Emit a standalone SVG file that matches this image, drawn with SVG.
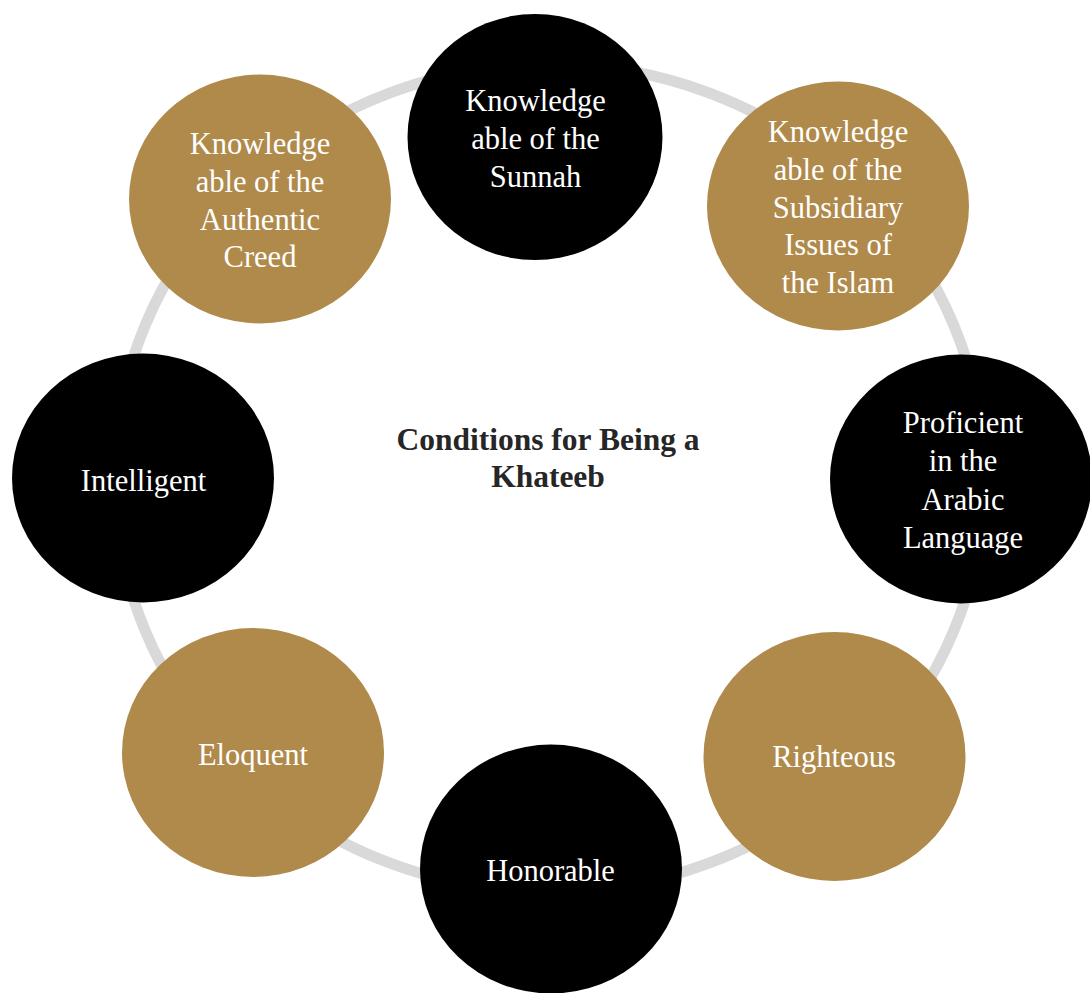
<svg xmlns="http://www.w3.org/2000/svg" width="1090" height="993" viewBox="0 0 1090 993">
  <style>
    .gold { fill: #B08A4B; }
    .dark { fill: #000000; }
    .lbl { font-family: "Liberation Serif", "Times New Roman", serif; font-size: 30.5px; fill: #FFFFFF; text-anchor: middle; }
    .title { font-family: "Liberation Serif", "Times New Roman", serif; font-size: 31.5px; font-weight: bold; fill: #262626; text-anchor: middle; }
  </style>
  <rect x="0" y="0" width="1090" height="993" fill="#FFFFFF"/>
  <g id="connectors">
    <ellipse cx="549.5" cy="478" rx="435" ry="414" fill="none" stroke="#D9D9D9" stroke-width="11"/>
  </g>
  <g id="center-title">
    <text class="title" x="548" y="450">Conditions for Being a</text>
    <text class="title" x="548" y="487">Khateeb</text>
  </g>
  <g id="node-sunnah">
    <ellipse class="dark" cx="535" cy="137" rx="127.5" ry="123"/>
    <text class="lbl" x="535.5" y="110.7">Knowledge</text>
    <text class="lbl" x="535.5" y="149">able of the</text>
    <text class="lbl" x="535.5" y="187.3">Sunnah</text>
  </g>
  <g id="node-subsidiary">
    <ellipse class="gold" cx="838" cy="206" rx="131" ry="124.5"/>
    <text class="lbl" x="838" y="141.7">Knowledge</text>
    <text class="lbl" x="838" y="179.6">able of the</text>
    <text class="lbl" x="838" y="217.5">Subsidiary</text>
    <text class="lbl" x="838" y="255.4">Issues of</text>
    <text class="lbl" x="838" y="293.3">the Islam</text>
  </g>
  <g id="node-arabic">
    <ellipse class="dark" cx="961" cy="479" rx="131" ry="124.5"/>
    <text class="lbl" x="963" y="433">Proficient</text>
    <text class="lbl" x="963" y="471.3">in the</text>
    <text class="lbl" x="963" y="509.6">Arabic</text>
    <text class="lbl" x="963" y="547.9">Language</text>
  </g>
  <g id="node-righteous">
    <ellipse class="gold" cx="834.5" cy="756.5" rx="131" ry="124.5"/>
    <text class="lbl" x="834" y="767">Righteous</text>
  </g>
  <g id="node-honorable">
    <ellipse class="dark" cx="551" cy="869" rx="131" ry="124.5"/>
    <text class="lbl" x="550.5" y="881">Honorable</text>
  </g>
  <g id="node-eloquent">
    <ellipse class="gold" cx="253" cy="752.5" rx="131" ry="124.5"/>
    <text class="lbl" x="253" y="765">Eloquent</text>
  </g>
  <g id="node-intelligent">
    <ellipse class="dark" cx="143" cy="478" rx="131" ry="124.5"/>
    <text class="lbl" x="143.5" y="490.7">Intelligent</text>
  </g>
  <g id="node-creed">
    <ellipse class="gold" cx="260" cy="199" rx="131" ry="124.5"/>
    <text class="lbl" x="260" y="154">Knowledge</text>
    <text class="lbl" x="260" y="191.8">able of the</text>
    <text class="lbl" x="260" y="229.6">Authentic</text>
    <text class="lbl" x="260" y="267.4">Creed</text>
  </g>
</svg>
